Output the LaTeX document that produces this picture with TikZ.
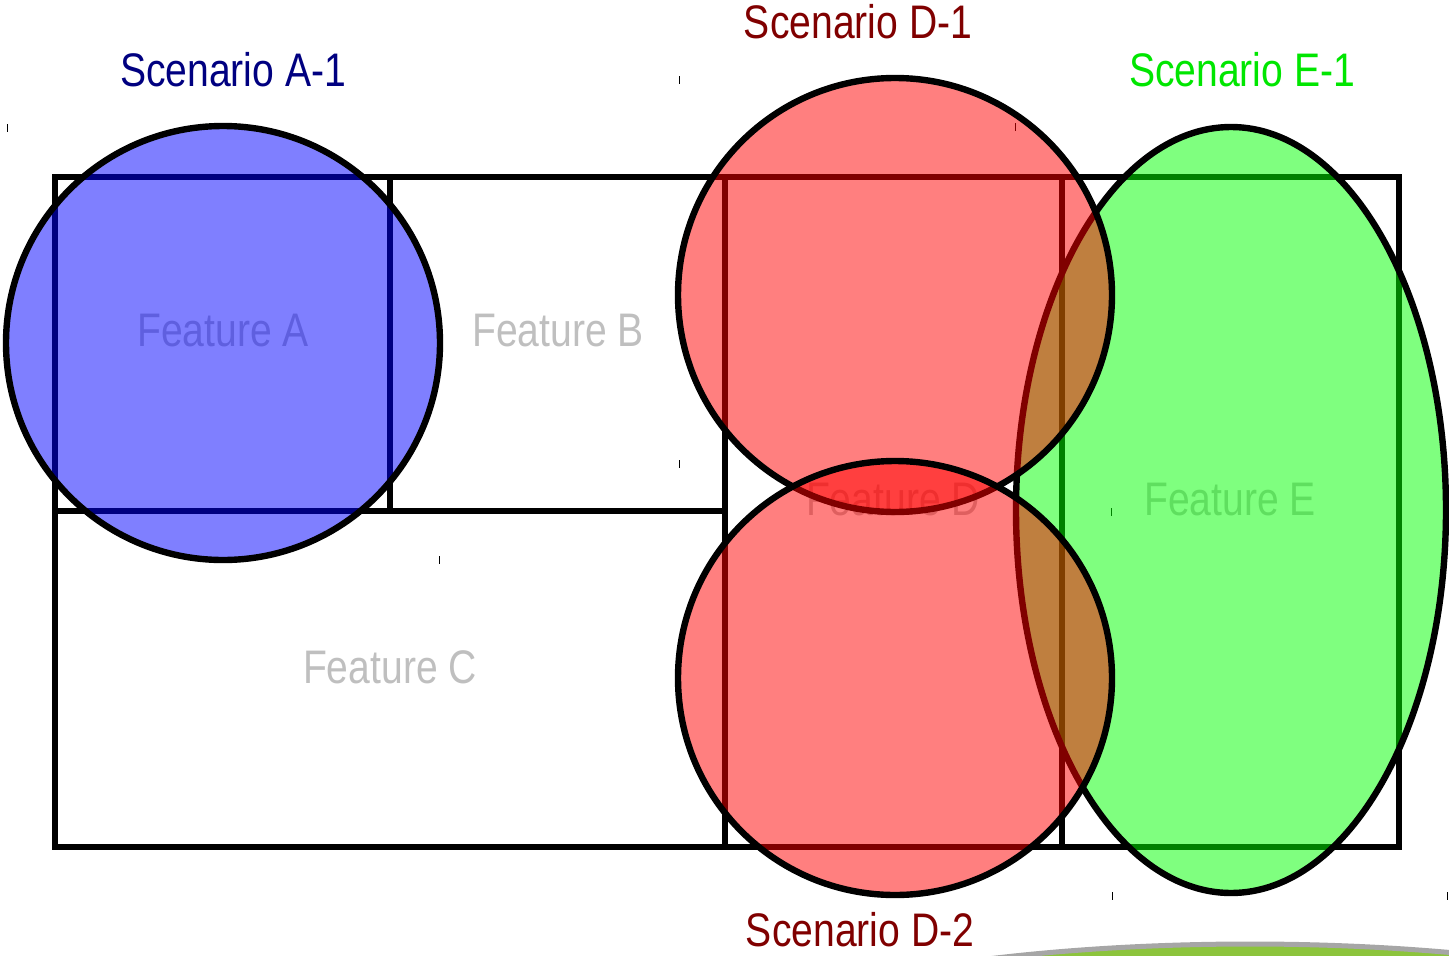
\documentclass[tikz,border=0pt]{standalone}
\usepackage{fontspec}
\setmainfont{Liberation Sans}
\newfontfamily\narrowsans[FakeStretch=0.83]{Liberation Sans}
\usepackage{tikz}
\usetikzlibrary{shapes}
\definecolor{scenA}{HTML}{000080}
\definecolor{scenD}{HTML}{800000}
\definecolor{scenE}{HTML}{00E600}
\definecolor{featgray}{HTML}{BFBFBF}
\definecolor{blobgreen}{HTML}{8CC43C}
\newcommand{\lblfont}{\narrowsans\fontsize{67}{80}\selectfont}

\begin{document}
\begin{tikzpicture}[
  x=0.5mm, y=-0.5mm,
  feat/.style={
    draw=black, line width=2.8mm},
  featlbl/.style={
    text=featgray, font=\lblfont},
  scen/.style={
    draw=black, line width=3.2mm,
    fill=#1, fill opacity=0.5},
  scenlbl/.style={
    text=#1, font=\lblfont},
  tickmark/.style={
    draw=black, line width=0.5mm},
]

  \useasboundingbox (0,0) rectangle (1449,955);

  % Feature boxes
  \draw[feat] (55,177) rectangle (390,511);
  \draw[feat] (390,177) rectangle (725,511);
  \draw[feat] (55,511) rectangle (725,847);
  \draw[feat] (725,177) rectangle (1062,847);
  \draw[feat] (1062,177) rectangle (1399,847);

  \node[featlbl] (featA) at (223,331) {Feature A};
  \node[featlbl] (featB) at (558,331) {Feature B};
  \node[featlbl] (featC) at (390,667) {Feature C};
  \node[featlbl] (featD) at (893,500) {Feature D};
  \node[featlbl] (featE) at (1230,500) {Feature E};

  % small marks
  \foreach \tx/\ty in {7/124, 439/556, 679/76, 679/460, 1015/123,
                       1111/508, 1112/892, 1447/892} {
    \draw[tickmark] (\tx,\ty) -- (\tx,\ty+8);
  }

  % Scenarios
  \draw[scen=blue] (223,343) circle[radius=217];
  \draw[scen=green] (1231,510) ellipse[x radius=215, y radius=383];
  \draw[scen=red] (895,295) circle[radius=217];
  \draw[scen=red] (895,678) circle[radius=217];

  \node[scenlbl=scenA] (scA1) at (233,70) {Scenario A-1};
  \node[scenlbl=scenD] (scD1) at (858,22) {Scenario D-1};
  \node[scenlbl=scenE] (scE1) at (1242,70) {Scenario E-1};
  \node[scenlbl=scenD] (scD2) at (860,930) {Scenario D-2};

  % cut-off shape at the bottom edge
  \begin{scope}
    \clip (0,0) rectangle (1449,955);
    \draw[draw=gray!70, line width=2.5mm, fill=blobgreen]
      (1250,1104) ellipse[x radius=620, y radius=160];
  \end{scope}

\end{tikzpicture}
\end{document}
